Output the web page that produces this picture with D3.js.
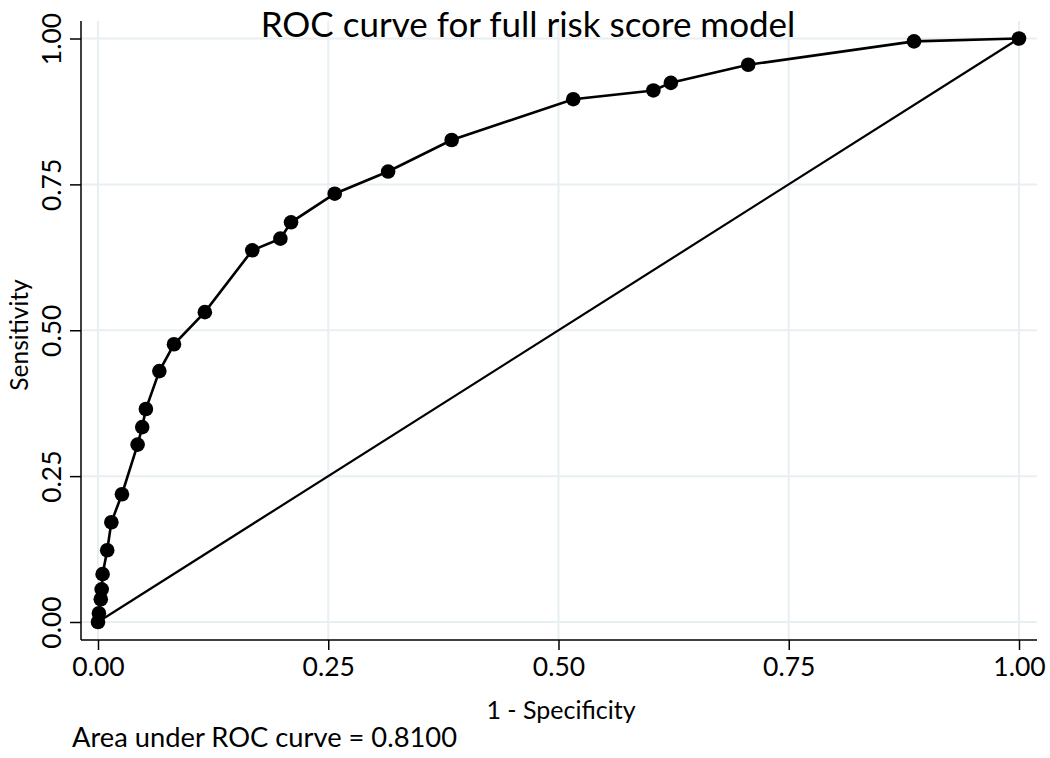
<!DOCTYPE html>
<meta charset="utf-8">
<body style="margin:0;background:#fff">
<script src="https://d3js.org/d3.v7.min.js"></script>
<script>

// ROC points: 1 - specificity and sensitivity
var fpr  = [0, 0.001, 0.003, 0.004, 0.005, 0.010, 0.0145, 0.026, 0.043, 0.048, 0.052,
            0.0666, 0.0825, 0.116, 0.1675, 0.198, 0.2096, 0.257, 0.315, 0.384,
            0.516, 0.603, 0.622, 0.706, 0.886, 1];
var sens = [0, 0.015, 0.039, 0.056, 0.082, 0.123, 0.171, 0.219, 0.304, 0.334, 0.365,
            0.430, 0.476, 0.531, 0.637, 0.657, 0.685, 0.734, 0.772, 0.826,
            0.896, 0.911, 0.924, 0.955, 0.995, 1];
var ticks = [0, 0.25, 0.5, 0.75, 1];
var tickLabels = ['0.00', '0.25', '0.50', '0.75', '1.00'];
var title = 'ROC curve for full risk score model';
var xTitle = '1 - Specificity';
var yTitle = 'Sensitivity';
var note = 'Area under ROC curve = 0.8100';

var W = 1050, H = 758;
var F = 'Lato, sans-serif';
// plot frame
var L = 81, R = 1037, T = 21, B = 640;

var x = d3.scaleLinear().domain([0, 1]).range([98, 1019]);
var y = d3.scaleLinear().domain([0, 1]).range([622, 38.5]);

var svg = d3.select('body').append('svg')
    .attr('width', W).attr('height', H);

// grid
svg.append('g').selectAll('line').data(ticks).enter().append('line')
    .attr('x1', d => x(d)).attr('x2', d => x(d))
    .attr('y1', T).attr('y2', B)
    .attr('stroke', '#e8eff2').attr('stroke-width', 2);
svg.append('g').selectAll('line').data(ticks).enter().append('line')
    .attr('x1', L).attr('x2', R)
    .attr('y1', d => y(d)).attr('y2', d => y(d))
    .attr('stroke', '#e8eff2').attr('stroke-width', 2);

// axes
var xAxis = d3.axisBottom(x).tickValues(ticks)
    .tickFormat((d, i) => tickLabels[i]).tickSize(10).tickSizeOuter(0);
var gx = svg.append('g').attr('transform', 'translate(0,' + B + ')').call(xAxis);
gx.select('.domain').remove();
gx.selectAll('line').attr('stroke', '#000').attr('stroke-width', 1.5);
gx.selectAll('text').attr('font-family', F).attr('font-size', 26.5).attr('fill', '#000')
    .attr('dy', null).attr('y', 36);

var yAxis = d3.axisLeft(y).tickValues(ticks)
    .tickFormat((d, i) => tickLabels[i]).tickSize(11).tickSizeOuter(0);
var gy = svg.append('g').attr('transform', 'translate(' + L + ',0)').call(yAxis);
gy.select('.domain').remove();
gy.selectAll('line').attr('stroke', '#000').attr('stroke-width', 1.5);
gy.selectAll('text')
    .attr('font-family', F).attr('font-size', 26.5).attr('fill', '#000')
    .attr('x', null).attr('dy', null).attr('y', null)
    .attr('text-anchor', 'middle')
    .attr('transform', 'translate(-20,0) rotate(-90)');

svg.append('line').attr('x1', L).attr('x2', L).attr('y1', T).attr('y2', B)
    .attr('stroke', '#000').attr('stroke-width', 1.5);
svg.append('line').attr('x1', L).attr('x2', R).attr('y1', B).attr('y2', B)
    .attr('stroke', '#000').attr('stroke-width', 1.5);

// reference diagonal
svg.append('line')
    .attr('x1', x(0)).attr('y1', y(0)).attr('x2', x(1)).attr('y2', y(1))
    .attr('stroke', '#000').attr('stroke-width', 2.2);

// ROC curve
var pts = fpr.map((d, i) => [d, sens[i]]);
svg.append('path').datum(pts)
    .attr('d', d3.line().x(d => x(d[0])).y(d => y(d[1])))
    .attr('fill', 'none').attr('stroke', '#000').attr('stroke-width', 2.6);
svg.append('g').selectAll('circle').data(pts).enter().append('circle')
    .attr('cx', d => x(d[0])).attr('cy', d => y(d[1])).attr('r', 7.3)
    .attr('fill', '#000');

// texts
svg.append('text').text(title)
    .attr('x', 528).attr('y', 37).attr('text-anchor', 'middle')
    .attr('font-family', F).attr('font-size', 35).attr('fill', '#000');
svg.append('text').text(xTitle)
    .attr('x', 561).attr('y', 719).attr('text-anchor', 'middle')
    .attr('font-family', F).attr('font-size', 25).attr('fill', '#000');
svg.append('text').text(yTitle)
    .attr('transform', 'translate(28,' + 335 + ') rotate(-90)')
    .attr('text-anchor', 'middle')
    .attr('font-family', F).attr('font-size', 24.5).attr('fill', '#000');
svg.append('text').text(note)
    .attr('x', 72).attr('y', 747)
    .attr('font-family', F).attr('font-size', 27.3).attr('fill', '#000');
</script>
</body>
